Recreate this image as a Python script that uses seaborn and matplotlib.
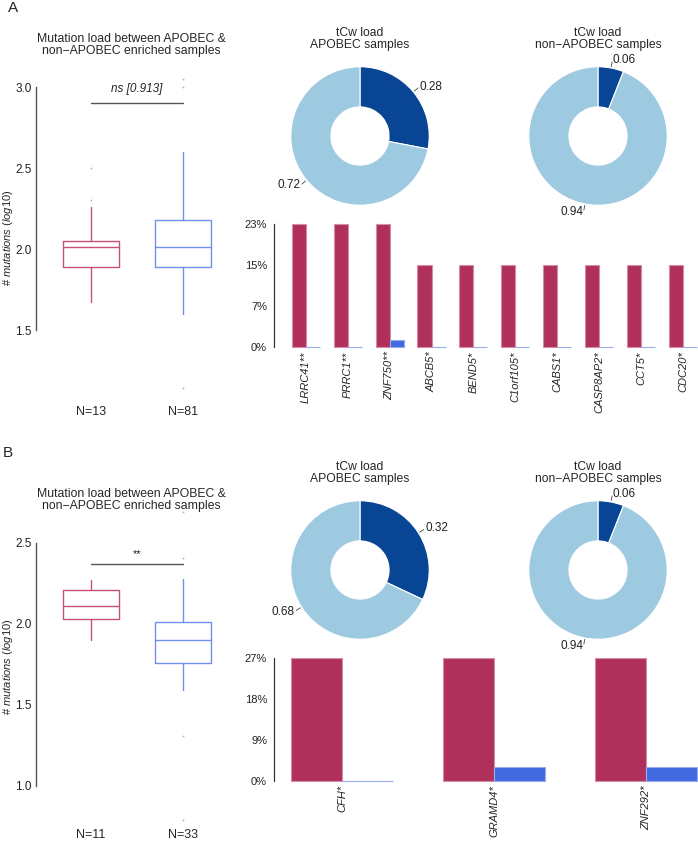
import numpy as np
import pandas as pd
import matplotlib
matplotlib.use("Agg")
import matplotlib.pyplot as plt
import seaborn as sns

# ---- data ----
box_groups = ["APOBEC", "non-APOBEC"]

# panel A box stats: whislo, q1, median, q3, whishi
boxA_apobec = [1.67, 1.89, 2.01, 2.05, 2.26]
boxA_non = [1.60, 1.89, 2.01, 2.18, 2.60]
fliersA_apobec = [2.30, 2.50]
fliersA_non = [1.14, 3.00, 3.05]
nA = ["N=13", "N=81"]
sigA = "ns [0.913]"

# panel B box stats
boxB_apobec = [1.90, 2.03, 2.11, 2.21, 2.27]
boxB_non = [1.59, 1.76, 1.90, 2.01, 2.28]
fliersB_apobec = []
fliersB_non = [0.79, 1.31, 2.41, 2.69]
nB = ["N=11", "N=33"]
sigB = "**"

# tCw load fractions
tcwA_apobec = 0.28
tcwA_non = 0.06
tcwB_apobec = 0.32
tcwB_non = 0.06

# gene mutation frequency
genesA = ["LRRC41**", "PRRC1**", "ZNF750**", "ABCB5*", "BEND5*", "C1orf105*",
          "CABS1*", "CASP8AP2*", "CCT5*", "CDC20*"]
freqA_apobec = [3/13, 3/13, 3/13, 2/13, 2/13, 2/13, 2/13, 2/13, 2/13, 2/13]
freqA_non = [0, 0, 1/81, 0, 0, 0, 0, 0, 0, 0]
yticksA = [0, 1/13, 2/13, 3/13]

genesB = ["CFH*", "GRAMD4*", "ZNF292*"]
freqB_apobec = [3/11, 3/11, 3/11]
freqB_non = [0, 1/33, 1/33]
yticksB = [0, 1/11, 2/11, 3/11]

# ---- style ----
sns.set_style("white")
plt.rcParams["font.family"] = ["Liberation Sans", "DejaVu Sans"]
plt.rcParams["mathtext.fontset"] = "custom"
plt.rcParams["mathtext.it"] = "Liberation Sans:italic"
plt.rcParams["mathtext.rm"] = "Liberation Sans"

red_box = "#C9507A"
blue_box = "#6F8FF2"
red_bar = "#B0305C"
blue_bar = "#4169E1"
dark_pie = "#084594"
light_pie = "#9ECAE1"
grey = "#555555"

W, H = 698, 849
fig = plt.figure(figsize=(W / 100, H / 100), dpi=100)


def rect(l, t, r, b):
    return [l / W, 1 - b / H, (r - l) / W, (b - t) / H]


def boxpanel(ax, s1, s2, f1, f2, ns, sig_y, ylim, ticks, pad):
    stats = []
    for s, f, lab in [(s1, f1, box_groups[0]), (s2, f2, box_groups[1])]:
        stats.append(dict(whislo=s[0], q1=s[1], med=s[2], q3=s[3], whishi=s[4],
                          fliers=f, label=lab))
    art = ax.bxp(stats, positions=[0, 1], widths=0.61, showcaps=False,
                 flierprops=dict(marker="o", markersize=1.3, markerfacecolor="#b5b5b5",
                                 markeredgecolor="none"))
    cols = [red_box, blue_box]
    for i, c in enumerate(cols):
        art["boxes"][i].set(color=c, linewidth=1.0)
        art["medians"][i].set(color=c, linewidth=1.0)
        for w in art["whiskers"][2 * i:2 * i + 2]:
            w.set(color=c, linewidth=1.0)
    ax.set_xlim(-0.6, 1.565)
    ax.set_ylim(*ylim)
    ax.set_yticks(ticks)
    ax.set_yticklabels([f"{t:.1f}" for t in ticks])
    ax.set_xticks([0, 1])
    ax.set_xticklabels(ns)
    sns.despine(ax=ax, bottom=True)
    ax.spines["left"].set_bounds(ticks[0], ticks[-1])
    ax.spines["left"].set_color(grey)
    ax.spines["left"].set_linewidth(1.0)
    ax.tick_params(axis="y", length=2.5, color=grey, labelsize=8.5, labelcolor="#222222", pad=0.5)
    ax.tick_params(axis="x", length=0, labelsize=9, pad=pad)
    ax.plot([0, 1], [sig_y, sig_y], color=grey, linewidth=1.0)
    ax.set_ylabel("")
    ax.set_xlabel("")
    return ax


def donut(ax, frac):
    wedges, _ = ax.pie([frac, 1 - frac], colors=[dark_pie, light_pie], startangle=90,
                       counterclock=False, radius=1,
                       wedgeprops=dict(width=0.58, edgecolor="white", linewidth=0.8))
    for w, v in zip(wedges, [frac, 1 - frac]):
        th = np.deg2rad((w.theta1 + w.theta2) / 2)
        c, s = np.cos(th), np.sin(th)
        ax.plot([1.02 * c, 1.09 * c], [1.02 * s, 1.09 * s], color="#444444", linewidth=0.6)
        ax.text(1.12 * c, 1.12 * s, f"{v:.2f}", ha="left" if c > 0 else "right",
                va="center", fontsize=8.5, color="#222222")
    ax.set_xlim(-1.3, 1.3)
    ax.set_ylim(-1.3, 1.3)
    ax.axis("off")


def barpanel(ax, genes, fa, fn, ticks, xlim):
    df = pd.DataFrame({
        "gene": genes * 2,
        "group": ["APOBEC"] * len(genes) + ["non-APOBEC"] * len(genes),
        "freq": list(fa) + list(fn),
    })
    sns.barplot(data=df, x="gene", y="freq", hue="group",
                palette={"APOBEC": red_bar, "non-APOBEC": blue_bar},
                width=0.67, saturation=1, legend=False, ax=ax)
    for p in ax.patches:
        fc = p.get_facecolor()
        ec = tuple(min(1, 0.55 * x + 0.45) for x in fc[:3])
        p.set_edgecolor(ec)
        p.set_linewidth(0.8)
        p.set_clip_on(False)
    ax.set_xlim(*xlim)
    ax.set_ylim(0, ticks[-1])
    ax.set_yticks(ticks)
    ax.set_yticklabels([f"{int(t * 100)}%" for t in ticks])
    ax.set_xticks(range(len(genes)))
    ax.set_xticklabels(genes, rotation=90, style="italic")
    sns.despine(ax=ax, bottom=True)
    ax.spines["left"].set_color("#333333")
    ax.spines["left"].set_linewidth(0.9)
    ax.tick_params(axis="y", length=3, color="#333333", labelsize=8, labelcolor="#222222", pad=2)
    ax.tick_params(axis="x", length=0, labelsize=8, pad=3)
    ax.set_xlabel("")
    ax.set_ylabel("")


# ---- panel A ----
axA = fig.add_axes(rect(36, 70, 235, 395))
boxpanel(axA, boxA_apobec, boxA_non, fliersA_apobec, fliersA_non, nA, 2.90,
         (1.099, 3.105), [1.5, 2.0, 2.5, 3.0], 8)
axA.text(0.5, 2.99, sigA, ha="center", va="center", fontsize=8.5, style="italic", color="#222222")

pA1 = fig.add_axes(rect(270, 46, 450, 226))
donut(pA1, tcwA_apobec)
pA2 = fig.add_axes(rect(508, 46, 688, 226))
donut(pA2, tcwA_non)

bA = fig.add_axes(rect(274, 224, 698, 347))
barpanel(bA, genesA, freqA_apobec, freqA_non, yticksA, (-0.76, 9.36))

# ---- panel B ----
axB = fig.add_axes(rect(36, 500, 235, 825))
boxpanel(axB, boxB_apobec, boxB_non, fliersB_apobec, fliersB_non, nB, 2.37,
         (0.759, 2.765), [1.0, 1.5, 2.0, 2.5], 3)
axB.text(0.5, 2.43, sigB, ha="center", va="center", fontsize=8, color="#222222")

pB1 = fig.add_axes(rect(270, 480, 450, 660))
donut(pB1, tcwB_apobec)
pB2 = fig.add_axes(rect(508, 480, 688, 660))
donut(pB2, tcwB_non)

bB = fig.add_axes(rect(274, 658, 698, 781))
barpanel(bB, genesB, freqB_apobec, freqB_non, yticksB, (-0.447, 2.34))

# ---- titles and labels ----
def ftext(x, y, s, **kw):
    fig.text(x / W, 1 - y / H, s, **kw)

ftext(13, 8, "A", fontsize=11, ha="center", va="center")
ftext(8, 453, "B", fontsize=11, ha="center", va="center")
box_title = "Mutation load between APOBEC &\nnon\u2212APOBEC enriched samples"
ftext(131, 45, box_title, fontsize=8.8, ha="center", va="center", linespacing=0.95)
ftext(131, 500, box_title, fontsize=8.8, ha="center", va="center", linespacing=0.95)
ylab = r"# $\mathit{mutations\ (log10)}$"
ftext(8, 238, ylab, fontsize=8, ha="center", va="center", rotation=90)
ftext(8, 667, ylab, fontsize=8, ha="center", va="center", rotation=90)
for cx, cy, t in [(360, 39, "tCw load\nAPOBEC samples"), (598, 39, "tCw load\nnon\u2212APOBEC samples"),
                  (360, 473, "tCw load\nAPOBEC samples"), (598, 473, "tCw load\nnon\u2212APOBEC samples")]:
    ftext(cx, cy, t, fontsize=8.7, ha="center", va="center", linespacing=0.9)

fig.savefig("out.png", dpi=100)
